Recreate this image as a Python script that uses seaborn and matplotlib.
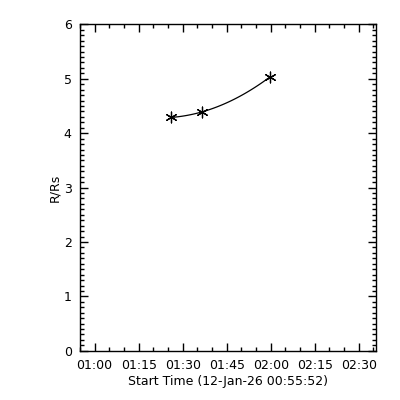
import numpy as np
import pandas as pd
import seaborn as sns
from matplotlib import pyplot as plt
from matplotlib.ticker import MultipleLocator, FuncFormatter

# Height-time measurements, minutes after the start time 00:55:52
start_label = 'Start Time (12-Jan-26 00:55:52)'
start_sec = 55 * 60 + 52
t_min = [30.2, 40.6, 64.0]
r_rs = [4.29, 4.39, 5.04]

df = pd.DataFrame({'t': t_min, 'r': r_rs})

sns.set_style('ticks')
plt.rcParams['font.family'] = ['DejaVu Sans']
plt.rcParams['font.size'] = 9
plt.rcParams['text.color'] = 'black'
plt.rcParams['axes.labelcolor'] = 'black'

fig = plt.figure(figsize=(4, 4), dpi=100)
ax = fig.add_axes([0.2, 0.123, 0.74, 0.816])

# quadratic fit through the points, drawn only over the data range
sns.regplot(data=df, x='t', y='r', order=2, ci=None, truncate=True, scatter=False,
			line_kws={'color': 'black', 'lw': 0.9}, ax=ax)
sns.scatterplot(data=df, x='t', y='r', marker=(6, 2, 0), s=60, color='black',
				edgecolor='black', linewidth=0.9, ax=ax, zorder=3)

ax.set_xlim(0, 100)
ax.set_ylim(0, 6)

# time ticks every 15 min, minors every 5 min, anchored on the clock
first_major = (60 * 60 - start_sec) / 60.0
ax.set_xticks(np.arange(first_major, 100, 15))
ax.set_xticks(np.arange(first_major - 5, 100, 5), minor=True)

def fmt_time(x, pos):
	s = int(round(start_sec + x * 60))
	return f'{(s // 3600) % 24:02d}:{(s % 3600) // 60:02d}'

ax.xaxis.set_major_formatter(FuncFormatter(fmt_time))
ax.yaxis.set_major_locator(MultipleLocator(1))
ax.yaxis.set_minor_locator(MultipleLocator(0.1))

ax.tick_params(which='both', direction='in', top=True, right=True, width=1, color='black',
			   labelsize=9, labelcolor='black')
ax.tick_params(which='major', length=6, pad=6)
ax.tick_params(which='minor', length=3)

for sp in ax.spines.values():
	sp.set_visible(True)
	sp.set_linewidth(1)
	sp.set_color('black')

ax.set_xlabel(start_label, fontsize=9, labelpad=2, color='black')
ax.set_ylabel('R/Rs', fontsize=9, labelpad=2, color='black')

fig.savefig('out.png', dpi=100, facecolor='white')
